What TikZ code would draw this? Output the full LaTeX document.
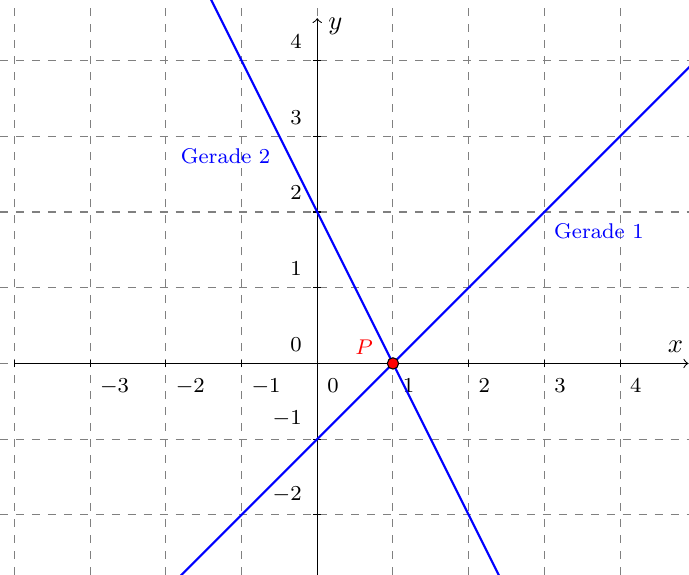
\documentclass[tikz,border=0pt]{standalone}
\usepackage{amsmath,amssymb}
\usetikzlibrary{calc}
\begin{document}
\begin{tikzpicture}[
        gridline/.style={gray, dashed},
        gerade/.style={blue, thick},
        tickx/.style={font=\footnotesize, inner sep=1pt, anchor=north west},
        ticky/.style={font=\footnotesize, inner sep=1pt, anchor=south east},
        geradelabel/.style={blue, font=\footnotesize}
    ]
        % Window: x in [-4.19, 4.91], y in [-2.79, 4.80]
        \useasboundingbox (-4.19,-2.79) rectangle (4.91,4.80);
        \clip (-4.19,-2.79) rectangle (4.91,4.80);

        % Grid
        \foreach \x in {-4,...,4} {\draw[gridline] (\x,-2.79) -- (\x,4.80);}
        \foreach \y in {-2,...,4} {\draw[gridline] (-4.19,\y) -- (4.91,\y);}

        % Axes
        \coordinate (Xa) at (-4,0);
        \coordinate (Xb) at (4.9,0);
        \coordinate (Ya) at (0,-2.79);
        \coordinate (Yb) at (0,4.56);
        \draw[->] (Xa) -- (Xb);
        \draw[->] (Ya) -- (Yb);
        \node (xlabel) at (4.73,0.22) {$x$};
        \node (ylabel) at (0.24,4.45) {$y$};

        % Ticks and numbers
        \foreach \x in {-4,...,4} {\draw (\x,-0.05) -- (\x,0.05);}
        \foreach \y in {-2,...,4} {\draw (-0.05,\y) -- (0.05,\y);}
        \foreach \x in {-3,...,4} {\node[tickx] (nx\x) at (\x+0.09,-0.165) {$\x$};}
        \foreach \y in {-2,...,4} {\node[ticky] (ny\y) at (-0.165,\y+0.12) {$\y$};}

        % Gerade 1: y = x - 1, Gerade 2: y = -2x + 2
        \coordinate (G1a) at (-1.9,-2.9);
        \coordinate (G1b) at (5,4);
        \coordinate (G2a) at (-1.45,4.9);
        \coordinate (G2b) at (2.45,-2.9);
        \draw[gerade] (G1a) -- (G1b);
        \draw[gerade] (G2a) -- (G2b);
        \node[geradelabel] (gerade1) at (3.72,1.75) {Gerade 1};
        \node[geradelabel] (gerade2) at (-1.21,2.74) {Gerade 2};

        % Schnittpunkt P
        \coordinate (P) at (1,0);
        \filldraw[fill=red, draw=black] (P) circle (0.075);
        \node[red, font=\footnotesize] (Plabel) at (0.62,0.22) {$P$};
    \end{tikzpicture}
\end{document}
